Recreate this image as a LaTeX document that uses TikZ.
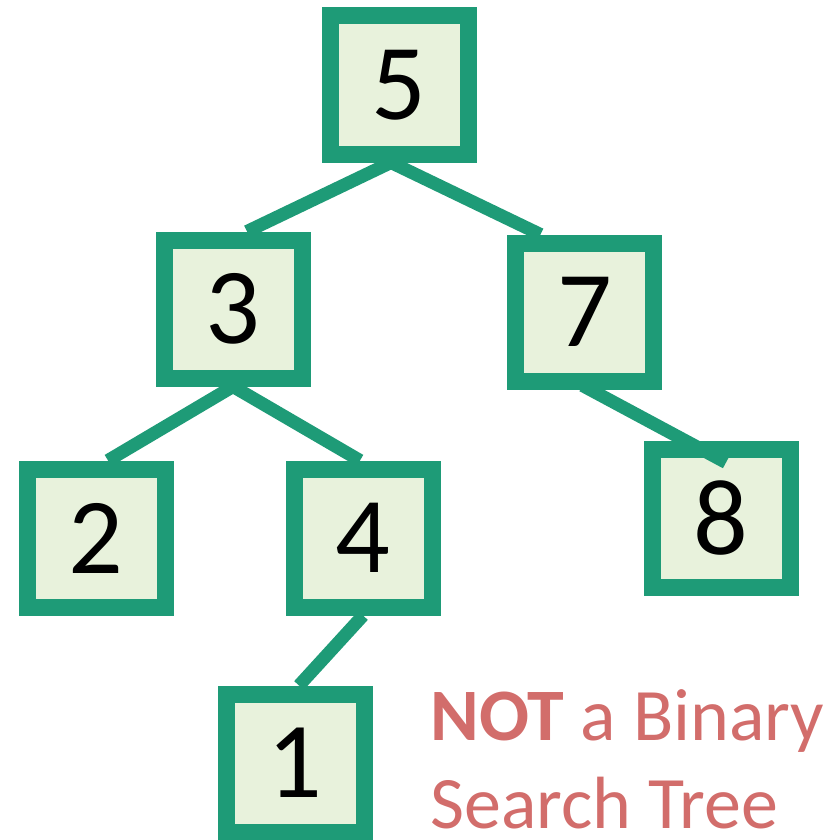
\documentclass[tikz,border=0pt]{standalone}
\usepackage{fontspec}
\usepackage{tikz}
\usetikzlibrary{calc,backgrounds}
\setmainfont{Carlito}
\definecolor{treeline}{HTML}{1E9B77}
\definecolor{treefill}{HTML}{E8F2DC}
\definecolor{warnred}{HTML}{D26D6B}
\tikzset{
  keynode/.style={draw=treeline,line width=8.5pt,fill=treefill,minimum size=69pt,inner sep=0pt,font=\fontsize{54}{54}\selectfont},
  link/.style={draw=treeline,line width=6.5pt},
  note/.style={anchor=base west,inner sep=0pt,align=left,text=warnred,font=\fontsize{37}{44}\selectfont}
}
\begin{document}
\begin{tikzpicture}[x=0.5pt,y=-0.5pt]
  \useasboundingbox (0,0) rectangle (838,840);
  \node[keynode] (k5) at (399,85) {5};
  \node[keynode] (k3) at (233,309) {3};
  \node[keynode] (k7) at (584.5,312) {7};
  \node[keynode] (k2) at (96,538) {2};
  \node[keynode] (k4) at (363,538) {4};
  \node[keynode] (k8) at (721,518) {8};
  \node[keynode] (k1) at (295,763) {1};
  \node[note] (caption) at (430,828) {\textbf{NOT} a Binary\\Search Tree};

  \begin{scope}[on background layer]
    \draw[link] ($(k5.south)+(-8,0)$) -- ($(k3.north)+(14,0)$);
    \draw[link] ($(k5.south)+(-8,0)$) -- ($(k7.north)+(-44,0)$);
    \draw[link] (k3.south) -- ($(k2.north)+(12,0)$);
    \draw[link] (k3.south) -- ($(k4.north)+(-3,0)$);
    \draw[link] (k4.south) -- ($(k1.north)+(4,0)$);
  \end{scope}
  \draw[link] ($(k7.south)+(-2,-4)$) -- ($(k8.north)+(5,22)$);
\end{tikzpicture}
\end{document}
